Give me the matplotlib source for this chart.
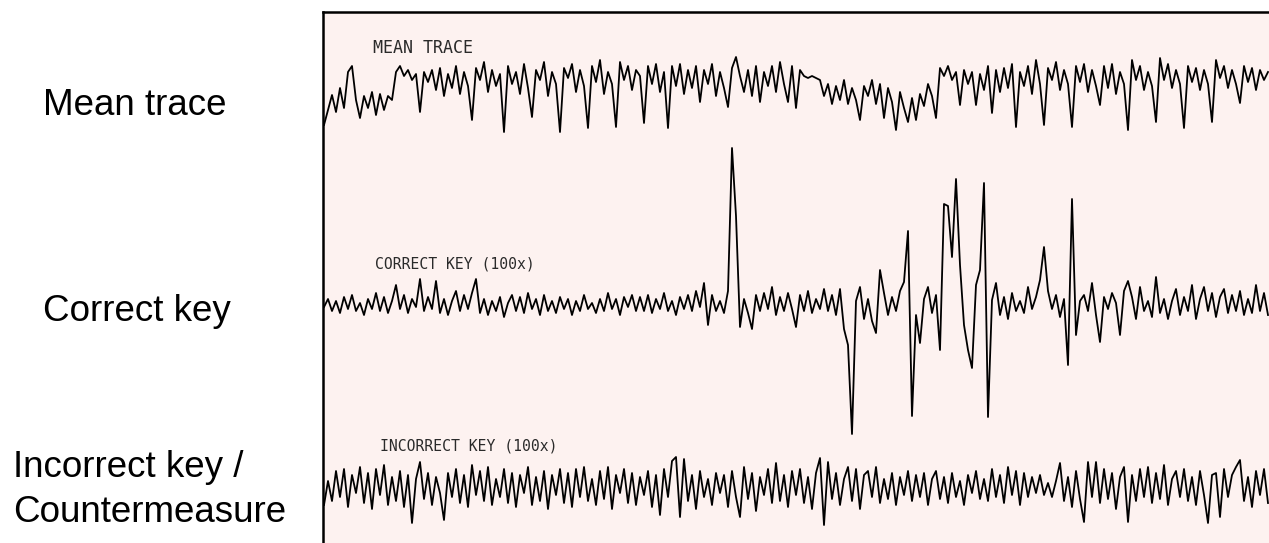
import matplotlib
matplotlib.use("Agg")
import matplotlib.pyplot as plt
import numpy as np

# trace values (arbitrary units, positive = up), one sample every ~4 px
mean_trace = [
    -45, -30, -15, -32, -8, -28, 8, 14, -20, -38, -16, -28, -12, -35, -14, -30, -16, -20, 8, 14,
    4, 10, 0, 6, -32, 8, -2, 10, -10, 12, -16, 6, -8, 14, -14, 8, -6, -40, 12, 0,
    18, -12, 10, -6, 6, -52, 14, -4, 8, -14, 16, -8, -37, 10, 0, 18, -16, 8, -4, -52,
    12, 2, 16, -12, 10, -6, -48, 14, -2, 20, -14, 8, -4, -47, 18, 0, 14, -10, 10, 4,
    -43, 14, -4, 16, -12, 8, -48, 14, -6, 16, -14, 10, -8, 14, -22, 10, -4, 16, -16, 8,
    -8, -27, 12, 23, 4, -12, 10, -16, 14, -22, 8, -6, 14, -12, 18, -4, -22, 14, -28, 10,
    4, 2, 4, 2, 0, -16, -4, -24, -6, -20, 0, -24, -8, -20, -40, -6, -16, 0, -24, -4,
    -38, -8, -22, -50, -12, -28, -42, -18, -40, -14, -26, -4, -16, -38, 12, 4, 14, 0, 8, -25,
    10, -4, 8, -25, 6, -10, 14, -33, 10, -12, 12, -8, 16, -47, 8, -6, 14, -14, 20, -4,
    -45, 12, 0, 18, -10, 10, -4, -47, 14, -2, 16, -12, 10, -6, -25, 14, -8, 16, -14, 8,
    -4, -50, 20, 0, 14, -10, 8, -6, -42, 22, 0, 16, -8, 10, -4, -48, 14, -2, 12, -10,
    10, -4, -42, 20, 2, 14, -8, 10, -4, -23, 14, -2, 12, -10, 10, 0, 8,
]

correct_key = [
    -2, 6, -6, 4, -8, 8, -4, 10, -6, 2, -10, 6, -4, 12, -6, 8, -8, 4, 20, -4,
    10, -8, 6, -2, 26, -6, 8, -4, 24, -8, 6, -10, 4, 14, -6, 10, -4, 12, 26, -8,
    6, -10, 4, -6, 8, -12, 2, 10, -6, 8, -8, 12, -4, 6, -10, 10, -6, 4, -8, 8,
    -4, 6, -10, 4, -6, 10, -4, 2, -8, 6, -6, 12, -4, 6, -10, 8, -2, 10, -6, 8,
    -6, 10, -8, 6, -4, 12, -6, 4, -10, 8, -4, 10, -6, 14, -2, 22, -20, 10, -6, 4,
    -8, 14, 157, 89, -22, 6, -8, -24, 10, -6, 12, -4, 18, -10, 8, -6, 12, -4, -22, 10,
    -6, 14, -8, 6, -4, 16, -6, 10, -10, 16, -24, -40, -129, 4, 18, -14, 6, -16, -28, 35,
    12, -10, 8, -6, 14, 23, 74, -111, -10, -38, 6, 18, -8, 10, -45, 101, 99, 48, 126, 40,
    -20, -45, -63, 20, 35, 122, -112, 5, 22, -10, 8, -14, 12, -6, 4, -8, 18, -4, 8, 25,
    58, 14, -4, 10, -12, 6, -60, 106, -30, 4, 10, -6, 22, -10, -37, 8, -4, 12, 2, -30,
    14, 24, 8, -14, 18, -6, 4, -12, 28, -8, 6, -14, 4, 16, -10, 8, -6, 20, -14, 6,
    18, -6, 12, -12, 8, 16, -8, 10, -6, 14, -10, 6, -8, 20, -6, 12, -10,
]

incorrect_key = [
    -18, 6, -14, 16, -10, 18, -20, 12, -6, 20, -16, 14, -22, 18, -8, 22, -18, 10, -14, 16,
    -20, 12, -36, 8, 25, -12, 14, -18, 10, -6, -33, 14, -10, 18, -16, 12, -20, 22, -8, 16,
    -14, 20, -18, 8, -10, 18, -16, 14, -20, 12, -6, 20, -18, 10, -14, 16, -22, 12, -8, 18,
    -16, 14, -20, 18, -10, 20, -14, 8, -18, 16, -12, 20, -22, 12, -6, 18, -16, 14, -18, 10,
    -8, 16, -20, 12, -28, 18, -10, 26, 30, -30, 28, -14, 12, -22, 16, -10, 8, -18, 14, -6,
    12, -20, 16, -10, -30, 20, -12, 14, -24, 10, -8, 18, -16, 24, -14, 12, -20, 16, -8, 18,
    -16, 10, -22, 14, 29, -38, 25, -12, 14, -18, 8, 20, -14, 18, -22, 12, 16, -10, 20, -16,
    8, -12, 14, -18, 10, -8, 16, -14, 12, -10, 14, -18, 8, 16, -12, 10, -16, 14, -10, 6,
    -18, 12, -6, 16, -12, 8, -14, 18, -10, 12, -16, 20, -8, 16, -18, 14, -10, 10, -6, 12,
    -8, 4, -10, 6, 24, -14, 10, -20, 16, -12, -35, 25, -10, 25, -16, 18, -12, 14, -22, 10,
    20, -35, 12, -14, 18, -10, 20, -16, 14, -12, 22, -18, 8, 16, -10, 18, -14, 10, -18, 16,
    -8, -36, 12, 14, -30, 18, -10, 12, 20, 27, -14, 10, -20, 16, -8, 18, -16,
]

trace_labels = ["MEAN TRACE", "CORRECT KEY (100x)", "INCORRECT KEY (100x)"]
side_labels = ["Mean trace", "Correct key", "Incorrect key /", "Countermeasure"]

W, H = 1269, 543
fig = plt.figure(figsize=(W / 100, H / 100), dpi=100)
fig.patch.set_facecolor("white")

# panel occupies pixel columns 323..1269 and rows 12..543 (cut off at right/bottom)
ax = fig.add_axes([323 / W, 0, 1 - 323 / W, (H - 12) / H])
ax.set_facecolor("#fdf2f0")
ax.set_xlim(323, W)
ax.set_ylim(H, 12)
for s in ["right", "bottom"]:
    ax.spines[s].set_visible(False)
ax.spines["left"].set_linewidth(1.8)
ax.spines["top"].set_linewidth(1.8)
ax.set_xticks([])
ax.set_yticks([])

baselines = [80, 305, 487]
label_pos = [(373, 48), (375, 264), (380, 446)]
label_size = [12, 10.6, 10.6]
for vals, base, lab, (lx, ly), fs in zip([mean_trace, correct_key, incorrect_key],
                                         baselines, trace_labels, label_pos, label_size):
    vals = np.array(vals, dtype=float)
    x = np.linspace(324, 1268, len(vals))
    ax.plot(x, base - vals, color="black", lw=1.3)
    ax.text(lx, ly, lab, fontsize=fs, family="DejaVu Sans Mono", color="#2a2a2a",
            va="center", ha="left")

# side labels (pixel x, baseline y)
side_pos = [(43, 115), (43, 321), (13, 477), (13, 522)]
for lab, (sx, sy) in zip(side_labels, side_pos):
    fig.text(sx / W, (H - sy) / H, lab, fontsize=26.5, family="Liberation Sans",
             va="baseline", ha="left")

fig.savefig("out.png", dpi=100, facecolor="white")
